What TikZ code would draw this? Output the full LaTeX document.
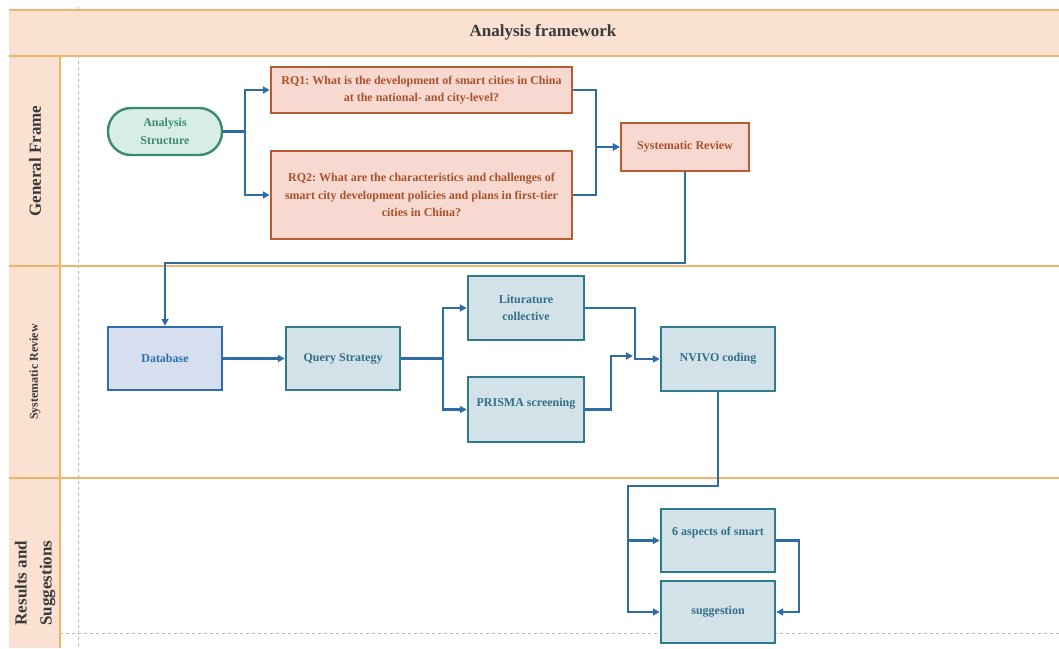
\documentclass[tikz,border=0pt]{standalone}
\usepackage{fontspec}
\setmainfont{Liberation Serif}
\usetikzlibrary{arrows.meta}
\frenchspacing

\definecolor{peach}{HTML}{FBE1D1}
\definecolor{laneline}{HTML}{EDB46C}
\definecolor{rqfill}{HTML}{F7D9D1}
\definecolor{rqline}{HTML}{B95C2F}
\definecolor{rqtext}{HTML}{AA5129}
\definecolor{greenfill}{HTML}{D6EEE6}
\definecolor{greenline}{HTML}{3B8A6B}
\definecolor{dbfill}{HTML}{D5DFF0}
\definecolor{dbline}{HTML}{2F6EAA}
\definecolor{tealfill}{HTML}{D3E2E9}
\definecolor{tealline}{HTML}{307A8D}
\definecolor{tealtext}{HTML}{2F6F88}
\definecolor{flow}{HTML}{2E6DA4}
\definecolor{labeltext}{HTML}{3A3A3A}

\tikzset{
  boxbase/.style={rectangle, inner sep=0pt, line width=2.4pt, align=center,
    font=\fontsize{12}{17.5}\selectfont\bfseries},
  rqbox/.style={boxbase, draw=rqline, fill=rqfill, text=rqtext},
  startbox/.style={boxbase, draw=greenline, fill=greenfill, text=greenline, rounded corners=23pt},
  dbbox/.style={boxbase, draw=dbline, fill=dbfill, text=dbline},
  tealbox/.style={boxbase, draw=tealline, fill=tealfill, text=tealtext},
  conn/.style={draw=flow, line width=2.3pt, -{Triangle[length=7pt,width=7pt]}},
  lanelabel/.style={rotate=90, text=labeltext, align=center, inner sep=0pt},
  laneline/.style={draw=laneline, line width=1.6pt}
}

\begin{document}
\begin{tikzpicture}[x=1pt,y=-1pt]
\useasboundingbox (0,0) rectangle (1059,648);
\fill[white] (0,0) rectangle (1059,648);

% dashed guide lines
\draw[gray!55, dashed, line width=0.8pt] (78,7) -- (78,648);
\draw[gray!55, dashed, line width=0.8pt] (60,633) -- (1059,633);

% title band
\fill[peach] (9,10) rectangle (1059,56);
\draw[laneline] (9,10) -- (1059,10);
\node[font=\fontsize{17}{20}\selectfont\bfseries, text=labeltext] (title) at (543,32) {Analysis framework};

% lane label column
\fill[peach] (9,56) rectangle (60,648);
\draw[laneline] (60,56) -- (60,648);
\draw[laneline] (9,56) -- (1059,56);
\draw[laneline] (9,266) -- (1059,266);
\draw[laneline] (9,478) -- (1059,478);

\node[lanelabel, font=\fontsize{17}{20}\selectfont\bfseries] (lane1) at (35,161) {General Frame};
\node[lanelabel, font=\fontsize{12}{14}\selectfont\bfseries] (lane2) at (35,372) {Systematic Review};
\node[lanelabel, font=\fontsize{17}{25}\selectfont\bfseries] (lane3) at (35,583) {Results and\\Suggestions};

% general frame
\node[startbox, minimum width=114pt, minimum height=47pt] (as) at (165,131.5) {Analysis\\Structure};
\node[rqbox, minimum width=301pt, minimum height=46pt] (rq1) at (421.5,90)
  {RQ1: What is the development of smart cities in China\\at the national- and city-level?};
\node[rqbox, minimum width=301pt, minimum height=88pt] (rq2) at (421.5,195)
  {RQ2: What are the characteristics and challenges of\\smart city development policies and plans in first-tier\\cities in China?};
\node[rqbox, minimum width=128pt, minimum height=48pt] (sr) at (685,147) {Systematic Review};

% systematic review
\node[dbbox, minimum width=114pt, minimum height=63pt] (db) at (165,358.5) {Database};
\node[tealbox, minimum width=114pt, minimum height=63pt] (qs) at (343,358.5) {Query Strategy};
\node[tealbox, minimum width=116pt, minimum height=64pt] (lc) at (526,308) {Liturature\\collective};
\node[tealbox, minimum width=116pt, minimum height=65pt] (pr) at (526,409.5) {PRISMA screening\\[-3pt]\mbox{}};
\node[tealbox, minimum width=114pt, minimum height=64pt] (nv) at (718,359) {NVIVO coding};

% results and suggestions
\node[tealbox, minimum width=114pt, minimum height=63pt] (sa) at (718,540.5) {6 aspects of smart\\\mbox{}};
\node[tealbox, minimum width=114pt, minimum height=62pt] (sg) at (718,612) {suggestion};

% junction points
\coordinate (j1) at (245,131.5);
\coordinate (j2) at (596,147);
\coordinate (j3) at (165,263);
\coordinate (j4) at (443,358.5);
\coordinate (j5) at (635,359);
\coordinate (j6) at (611,356);
\coordinate (j7) at (633,356);
\coordinate (j8) at (628,486);
\coordinate (j9) at (799,612);

% connectors
\draw[conn] (as.east) -- (j1) |- (rq1.west);
\draw[conn] (as.east) -- (j1) |- (rq2.west);
\draw[conn] (rq1.east) -| (j2) -- (sr.west);
\draw[conn] (rq2.east) -| (j2) -- (sr.west);
\draw[conn] (sr.south) |- (j3) -- (db.north);
\draw[conn] (db.east) -- (qs.west);
\draw[conn] (qs.east) -- (j4) |- (lc.west);
\draw[conn] (qs.east) -- (j4) |- (pr.west);
\draw[conn] (lc.east) -| (j5) -- (nv.west);
\draw[conn] (pr.east) -| (j6) -- (j7);
\draw[conn] (nv.south) |- (j8) |- (sa.west);
\draw[conn] (nv.south) |- (j8) |- (sg.west);
\draw[conn] (sa.east) -| (j9) -- (sg.east);
\end{tikzpicture}
\end{document}
